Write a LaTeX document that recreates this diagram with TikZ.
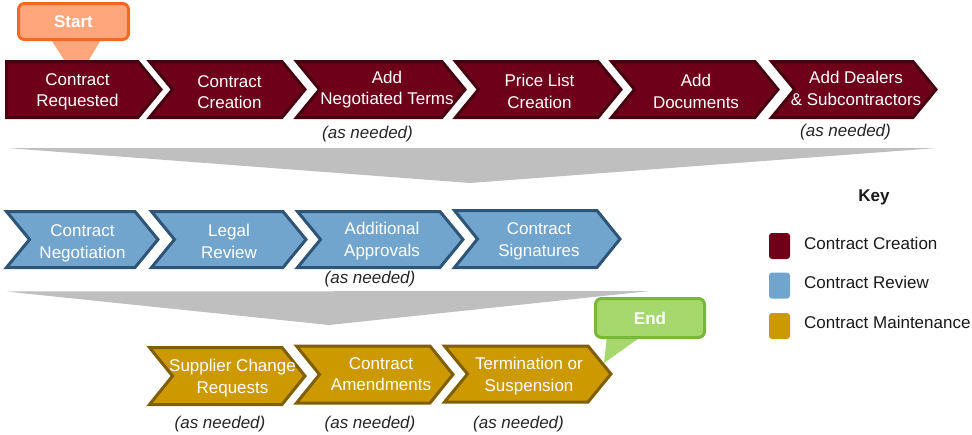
\documentclass[tikz,border=0pt]{standalone}
\usepackage{fontspec}
\setmainfont{Liberation Sans}
\definecolor{crim}{HTML}{6E0019}
\definecolor{crimdark}{HTML}{470010}
\definecolor{sky}{HTML}{72A5CD}
\definecolor{skydark}{HTML}{2E5577}
\definecolor{gold}{HTML}{CC9900}
\definecolor{golddark}{HTML}{7F5F00}
\definecolor{funnel}{HTML}{BFBFBF}
\definecolor{startfill}{HTML}{FFA67C}
\definecolor{startline}{HTML}{F4691F}
\definecolor{endfill}{HTML}{A6D86E}
\definecolor{endline}{HTML}{77B839}
% notched chevron: style, left x, tip x, top y, bottom y
\newcommand\chevN[5]{\path[#1] (#2,#4) -- ({#3-23},#4) -- (#3,{(#4+#5)/2}) -- ({#3-23},#5) -- (#2,#5) -- ({#2+23},{(#4+#5)/2}) -- cycle;}
% chevron with a flat left side
\newcommand\chevF[5]{\path[#1] (#2,#4) -- ({#3-23},#4) -- (#3,{(#4+#5)/2}) -- ({#3-23},#5) -- (#2,#5) -- cycle;}
\begin{document}
\begin{tikzpicture}[x=1pt,y=-1pt,
  creation/.style={fill=crim, draw=crimdark, line width=3pt, line join=miter},
  review/.style={fill=sky, draw=skydark, line width=3pt, line join=miter},
  maint/.style={fill=gold, draw=golddark, line width=3pt, line join=miter},
  lbl/.style={text=white, align=center, font=\fontsize{17}{21.5}\selectfont, inner sep=0pt},
  note/.style={text=black!85, font=\fontsize{17}{21}\selectfont\itshape, inner sep=0pt},
  keytxt/.style={text=black!90, anchor=west, font=\fontsize{17}{21}\selectfont, inner sep=0pt},
  keybox/.style={minimum width=21pt, minimum height=26pt, rounded corners=3pt, inner sep=0pt},
  callout/.style={rounded corners=6pt, line width=3pt, text=white, font=\fontsize{17}{21}\selectfont\bfseries, inner sep=0pt}
]
\useasboundingbox (0,0) rectangle (972,434);

% grey funnels between the rows
\fill[funnel] (7,148) -- (937,148) -- (470,183) -- cycle;
\fill[funnel] (6,291.5) -- (650,291) -- (329,325) -- cycle;

% callout tails
\fill[startfill] (50,38) -- (102,38) -- (77,80) -- cycle;
\fill[endfill] (607,336) -- (642,336) -- (604,363) -- cycle;

% row 1: contract creation
\chevF{creation}{6.5}{161}{61.5}{117.5}
\chevN{creation}{149.5}{305}{61.5}{117.5}
\chevN{creation}{296.5}{465}{61.5}{117.5}
\chevN{creation}{455.5}{621}{61.5}{117.5}
\chevN{creation}{611.5}{778}{61.5}{117.5}
\chevN{creation}{771.5}{936}{61.5}{117.5}

% row 2: contract review
\chevN{review}{6.5}{158}{211.5}{267.5}
\chevN{review}{151.5}{306}{211.5}{267.5}
\chevN{review}{297.5}{463}{211.5}{267.5}
\chevN{review}{454.5}{620}{210.5}{267.5}

% row 3: contract maintenance
\chevN{maint}{149.5}{305}{347.5}{404.5}
\chevN{maint}{296.5}{453}{346}{403}
\chevN{maint}{444.5}{611}{346}{402}

% start / end callouts
\node[callout, fill=startfill, draw=startline, minimum width=110pt, minimum height=36pt] (start) at (73.5,21.5) {Start};
\node[callout, fill=endfill, draw=endline, minimum width=109pt, minimum height=39pt] (end) at (650,318) {End};

% step labels
\node[lbl] (c1) at (77.5,92) {Contract\\Requested};
\node[lbl] (c2) at (229.5,92) {Contract\\Creation};
\node[lbl] (c3) at (387,89.5) {Add\\Negotiated Terms};
\node[lbl] (c4) at (539.5,91.5) {Price List\\Creation};
\node[lbl] (c5) at (696,91.5) {Add\\Documents};
\node[lbl] (c6) at (856,88.5) {Add Dealers\\\& Subcontractors};

\node[lbl] (r1) at (82.5,243.5) {Contract\\Negotiation};
\node[lbl] (r2) at (229,241.5) {Legal\\Review};
\node[lbl] (r3) at (382,241) {Additional\\Approvals};
\node[lbl] (r4) at (539,241.5) {Contract\\Signatures};

\node[lbl] (m1) at (232.5,378) {Supplier Change\\Requests};
\node[lbl] (m2) at (381,374) {Contract\\Amendments};
\node[lbl] (m3) at (529,376) {Termination or\\Suspension};

% optional-step notes
\node[note] (n1) at (367.5,134.5) {(as needed)};
\node[note] (n2) at (845.5,132.5) {(as needed)};
\node[note] (n3) at (370,279.5) {(as needed)};
\node[note] (n4) at (220,424) {(as needed)};
\node[note] (n5) at (370,424) {(as needed)};
\node[note] (n6) at (518.5,424) {(as needed)};

% legend
\node[font=\fontsize{17}{21}\selectfont\bfseries, text=black!90, inner sep=0pt] (key) at (874,197) {Key};
\node[keybox, fill=crim] (k1) at (779.5,246) {};
\node[keybox, fill=sky] (k2) at (779.5,285.5) {};
\node[keybox, fill=gold] (k3) at (779.5,326) {};
\node[keytxt] (t1) at (804,243.5) {Contract Creation};
\node[keytxt] (t2) at (804,282.5) {Contract Review};
\node[keytxt] (t3) at (804,322.5) {Contract Maintenance};
\end{tikzpicture}
\end{document}
